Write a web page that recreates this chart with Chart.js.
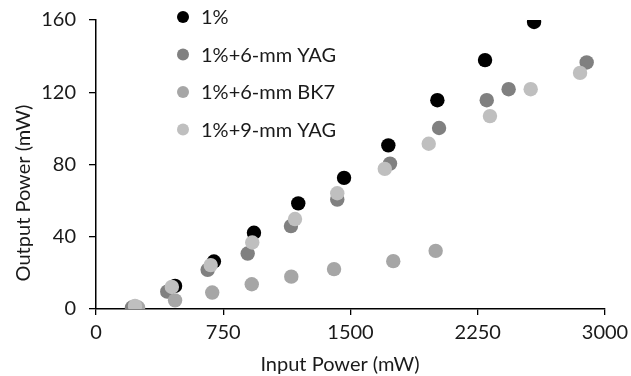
<!DOCTYPE html>
<html>
<head>
<meta charset="utf-8">
<script src="https://cdn.jsdelivr.net/npm/chart.js@4/dist/chart.umd.min.js"></script>
<style>
html,body{margin:0;padding:0;background:#fff;}
#wrap{width:631px;height:376px;position:relative;}
</style>
</head>
<body>
<div id="wrap"><canvas id="c" width="631" height="376"></canvas></div>
<script>
// ---- data ----
const seriesNames = ["1%", "1%+6-mm YAG", "1%+6-mm BK7", "1%+9-mm YAG"];
const s1x = [466, 695, 931, 1192, 1462, 1723, 2012, 2293, 2582];
const s1y = [12.8, 26.3, 42.2, 58.5, 72.6, 90.6, 115.6, 137.8, 158.9];
const s2x = [212, 420, 658, 894, 1149, 1422, 1733, 2022, 2303, 2432, 2892];
const s2y = [0.8, 9.6, 21.7, 30.7, 45.9, 60.6, 80.5, 100.2, 115.6, 121.7, 136.5];
const s3x = [248, 466, 685, 918, 1151, 1403, 1752, 2002];
const s3y = [0.8, 4.8, 9.1, 13.7, 17.9, 22.1, 26.5, 32.2];
const s4x = [230, 447, 676, 921, 1173, 1422, 1702, 1961, 2322, 2562, 2853];
const s4y = [1.7, 12.2, 24.3, 36.8, 49.8, 64.1, 77.6, 91.5, 106.8, 121.7, 130.7];
const xTicks = [0, 750, 1500, 2250, 3000];
const yTicks = [0, 40, 80, 120, 160];
const colors = ["#000000", "#808080", "#a6a6a6", "#bfbfbf"];
const xTitle = "Input Power (mW)";
const yTitle = "Output Power (mW)";

const FONT = "Lato, 'Open Sans', sans-serif";
const FS = 20;
const TEXT = "#1a1a1a";

function pts(xs, ys){ return xs.map((x,i)=>({x:x, y:ys[i]})); }
const xsAll = [s1x, s2x, s3x, s4x];
const ysAll = [s1y, s2y, s3y, s4y];

const datasets = seriesNames.map((n,i)=>({
  label: n,
  data: pts(xsAll[i], ysAll[i]),
  backgroundColor: colors[i],
  borderColor: colors[i],
  borderWidth: 0,
  pointRadius: 7.2,
  pointHoverRadius: 7.2,
  order: seriesNames.length - 1 - i
}));

const overlay = {
  id: 'overlay',
  afterDraw(chart){
    const ctx = chart.ctx;
    ctx.save();
    ctx.font = FS + "px " + FONT;
    ctx.fillStyle = TEXT;
    // legend
    const lx = 183, ly0 = 17, dy = 37.5;
    chart.data.datasets.forEach((d,i)=>{
      const y = ly0 + i*dy;
      ctx.beginPath();
      ctx.arc(lx, y, 6, 0, Math.PI*2);
      ctx.fillStyle = d.backgroundColor;
      ctx.fill();
      ctx.fillStyle = TEXT;
      ctx.textAlign = 'left';
      ctx.textBaseline = 'middle';
      ctx.fillText(d.label, lx + 18, y + 1);
    });
    // axis titles
    ctx.textAlign = 'center';
    ctx.textBaseline = 'middle';
    ctx.fillText(xTitle, 340, 365);
    ctx.translate(24, 193);
    ctx.rotate(-Math.PI/2);
    ctx.fillText(yTitle, 0, 0);
    ctx.restore();
  }
};

new Chart(document.getElementById('c'), {
  type: 'scatter',
  data: { datasets },
  options: {
    responsive: false,
    animation: false,
    devicePixelRatio: 1,
    layout: { padding: { left: 0, top: 20, right: 26, bottom: 0 } },
    plugins: { legend: { display: false }, tooltip: { enabled: false } },
    scales: {
      x: {
        type: 'linear',
        min: 0, max: 3000,
        afterBuildTicks(scale){ scale.ticks = xTicks.map(v=>({value:v})); },
        afterFit(scale){ scale.height = 376 - 309; scale.paddingLeft = 0; scale.paddingRight = 0; },
        ticks: { color: TEXT, font: { family: FONT, size: FS }, padding: 6, maxRotation: 0, autoSkip: false,
                 callback: v => String(v) },
        grid: { display: true, drawOnChartArea: false, drawTicks: true, tickLength: 6, color: '#000', lineWidth: 1.3 },
        border: { display: true, color: '#000', width: 1.5 }
      },
      y: {
        type: 'linear',
        min: 0, max: 160,
        afterBuildTicks(scale){ scale.ticks = yTicks.map(v=>({value:v})); },
        afterFit(scale){ scale.width = 96; scale.paddingTop = 0; scale.paddingBottom = 0; },
        ticks: { color: TEXT, font: { family: FONT, size: FS }, padding: 13, callback: v => String(v) },
        grid: { display: true, drawOnChartArea: false, drawTicks: true, tickLength: 7, color: '#000', lineWidth: 1.3 },
        border: { display: true, color: '#000', width: 1.5 }
      }
    }
  },
  plugins: [overlay]
});
</script>
</body>
</html>
